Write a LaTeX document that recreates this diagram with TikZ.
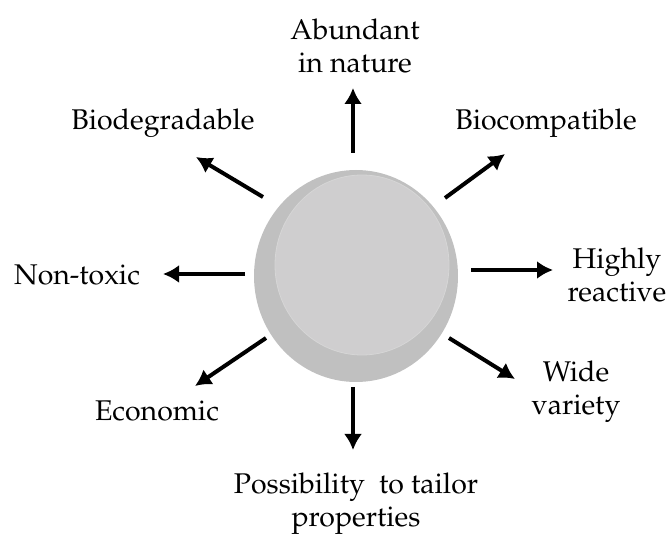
\documentclass[tikz,border=0pt]{standalone}
\usepackage[T1]{fontenc}
\usepackage{mathpazo}
\usetikzlibrary{arrows.meta}
\definecolor{sphereout}{HTML}{C0C0C0}
\definecolor{spherein}{HTML}{CFCECF}

\begin{document}
\begin{tikzpicture}[x=1pt,y=-1pt,>={Latex[length=16pt,width=18pt]},
    every node/.style={align=center,inner sep=0pt,font=\fontsize{28.5}{33}\selectfont}]
    \useasboundingbox (0,0) rectangle (670,537);
    % sphere
    \fill[sphereout] (356,276) ellipse (102 and 106);
    \fill[spherein,draw=white!35!sphereout,line width=0.8pt] (362,265) ellipse (87 and 90);
    \coordinate (sph) at (356,276);
    % labels
    \node (abund) at (355,46) {Abundant\\in nature};
    \node (biodeg) at (163,123) {Biodegradable};
    \node (biocomp) at (546,123) {Biocompatible};
    \node (react) at (617,275) {Highly\\reactive};
    \node (wide) at (576,392) {Wide\\variety};
    \node (econ) at (157,411) {Economic};
    \node (nontox) at (77,275) {Non-toxic};
    \node (tailor) at (356,504) {Possibility~ to tailor\\properties};
    % arrow ends
    \coordinate (a1) at (353,153); \coordinate (b1) at (353,88);
    \coordinate (a2) at (445,198); \coordinate (b2) at (505,154);
    \coordinate (a3) at (471,270); \coordinate (b3) at (553,270);
    \coordinate (a4) at (449,338); \coordinate (b4) at (515,379);
    \coordinate (a5) at (353,387); \coordinate (b5) at (353,450);
    \coordinate (a6) at (266,338); \coordinate (b6) at (195,386);
    \coordinate (a7) at (245,274); \coordinate (b7) at (163,274);
    \coordinate (a8) at (263,197); \coordinate (b8) at (196,157);
    \foreach \i in {1,...,8}
      \draw[->,line width=4pt] (a\i) -- (b\i);
\end{tikzpicture}
\end{document}
